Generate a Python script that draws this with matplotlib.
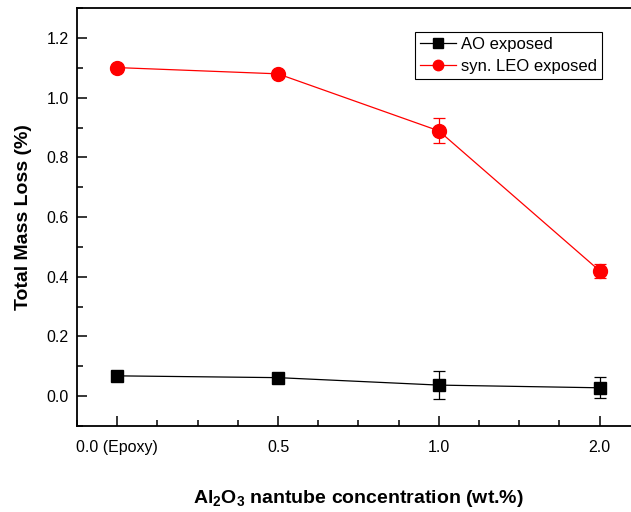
import matplotlib
matplotlib.use("Agg")
import matplotlib.pyplot as plt
from matplotlib.ticker import MultipleLocator

# data
labels = ["0.0 (Epoxy)", "0.5", "1.0", "2.0"]
ao_loss = [0.068, 0.062, 0.037, 0.028]
ao_err = [0.01, 0.01, 0.048, 0.035]
leo_loss = [1.101, 1.080, 0.889, 0.420]
leo_err = [0.01, 0.01, 0.042, 0.023]

plt.rcParams["font.family"] = ["Liberation Sans", "DejaVu Sans"]
plt.rcParams["mathtext.fontset"] = "custom"
plt.rcParams["mathtext.rm"] = "Liberation Sans:bold"
plt.rcParams["mathtext.bf"] = "Liberation Sans:bold"

fig = plt.figure(figsize=(6.31, 5.12), dpi=100)
ax = fig.add_axes([0.122, 0.168, 0.892, 0.816])

x = list(range(len(labels)))
ax.errorbar(x, ao_loss, yerr=ao_err, fmt="none", ecolor="black",
            elinewidth=0.9, capsize=4, capthick=0.9)
ax.errorbar(x, leo_loss, yerr=leo_err, fmt="none", ecolor="red",
            elinewidth=0.9, capsize=4, capthick=0.9)
ax.plot(x, ao_loss, color="black", marker="s", ms=9, lw=0.9, label="AO exposed")
ax.plot(x, leo_loss, color="red", marker="o", ms=10, lw=0.9, label="syn. LEO exposed")

ax.set_xlim(-0.25, 3.25)
ax.set_ylim(-0.1, 1.3)
ax.set_xticks(x)
ax.set_xticklabels(labels)
ax.xaxis.set_minor_locator(MultipleLocator(0.25))
ax.yaxis.set_minor_locator(MultipleLocator(0.1))
ax.set_yticks([0.0, 0.2, 0.4, 0.6, 0.8, 1.0, 1.2])
ax.set_yticklabels(["0.0", "0.2", "0.4", "0.6", "0.8", "1.0", "1.2"])
ax.tick_params(which="both", direction="in", labelsize=11.5, width=1.1)
ax.tick_params(which="major", length=7, pad=6)
ax.tick_params(which="minor", length=4)
ax.tick_params(axis="x", pad=10)
for s in ax.spines.values():
    s.set_linewidth(1.3)

ax.set_ylabel("Total Mass Loss (%)", fontsize=14, fontweight="bold", labelpad=10)
ax.set_xlabel(r"Al$_2$O$_3$ nantube concentration (wt.%)", fontsize=14,
              fontweight="bold", labelpad=24)

leg = ax.legend(loc="upper left", bbox_to_anchor=(0.600, 0.944), fontsize=12,
                markerscale=0.75, handlelength=2.2, fancybox=False,
                edgecolor="black", framealpha=1, borderpad=0.3,
                borderaxespad=0, labelspacing=0.45, handletextpad=0.3)
leg.get_frame().set_linewidth(0.8)

fig.savefig("out.png", dpi=100)
